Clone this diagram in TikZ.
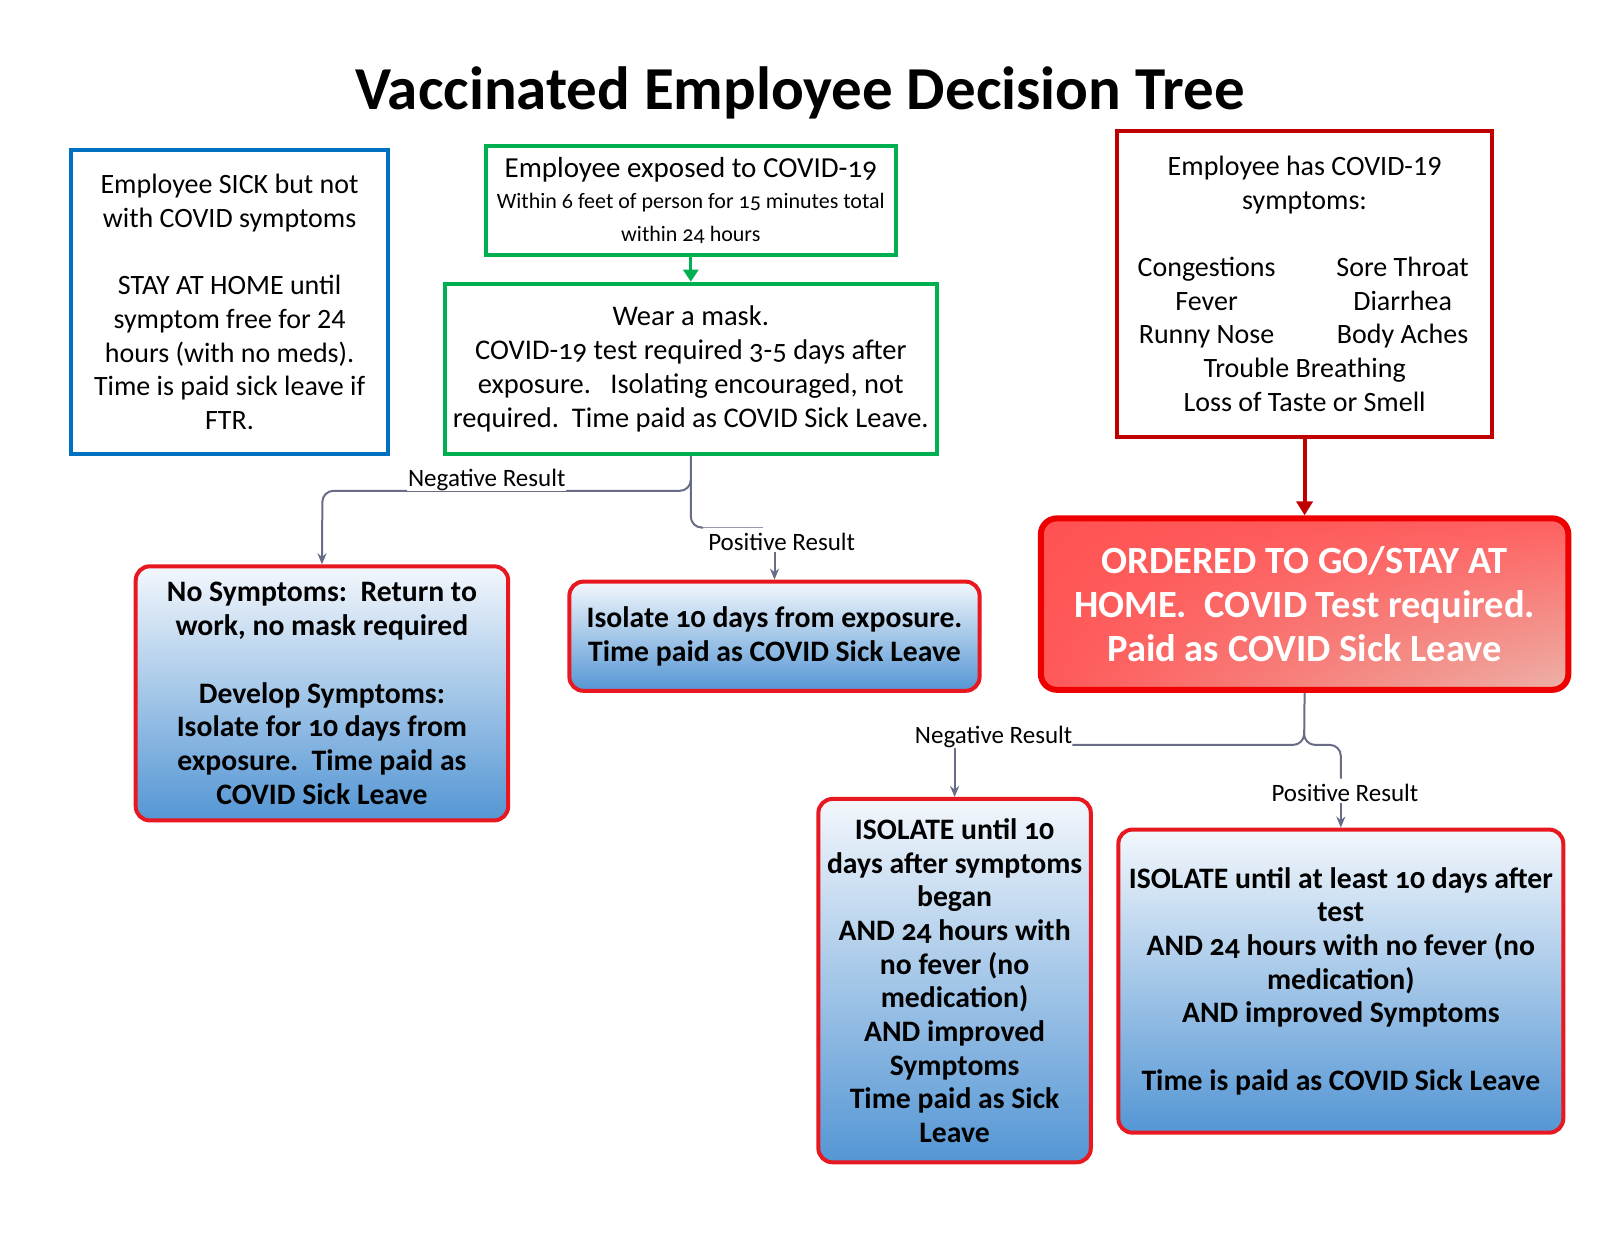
\documentclass[tikz,border=0pt]{standalone}
\usepackage{fontspec}
\setmainfont{Carlito}
\newfontfamily\cand[Numbers=OldStyle]{Carlito}
\usetikzlibrary{arrows.meta,shadings}
\definecolor{bbox}{RGB}{0,112,192}
\definecolor{gbox}{RGB}{0,176,80}
\definecolor{drbox}{RGB}{192,0,0}
\definecolor{rb}{RGB}{232,24,32}
\definecolor{ordb}{RGB}{238,0,0}
\definecolor{conn}{RGB}{104,108,134}
\definecolor{conlight}{RGB}{150,153,172}
\definecolor{gtop}{RGB}{243,247,252}
\definecolor{gbot}{RGB}{84,150,212}
\definecolor{oul}{RGB}{255,82,82}
\definecolor{our}{RGB}{255,96,96}
\definecolor{oll}{RGB}{255,88,88}
\definecolor{olr}{RGB}{236,178,168}
\begin{document}
\begin{tikzpicture}[x=1.0204pt,y=-1.0204pt,
 boxsize/.style args={#1/#2}{minimum width=#1*1.0204pt, minimum height=#2*1.0204pt},
 plainbox/.style={draw, line width=4pt, inner sep=0pt, align=center,
   font=\fontsize{28}{33.7}\selectfont},
 gradbox/.style={draw=rb, line width=4pt, rounded corners=14pt, top color=gtop,
   bottom color=gbot, inner sep=0pt, align=center,
   font=\fontsize{29.7}{33.7}\selectfont\cand\bfseries},
 link/.style={draw=conn, line width=2pt, rounded corners=11pt},
 tip/.style={-{Stealth[length=11pt,width=9pt]}},
 lab/.style={font=\fontsize{25}{28}\selectfont, inner sep=1pt}
]
\useasboundingbox (0,0) rectangle (1568,1211.3);

\node[font=\fontsize{61}{64}\selectfont\bfseries, anchor=base] (title) at (784,107)
  {Vaccinated Employee Decision Tree};

% top row boxes
\node[plainbox, draw=bbox, boxsize=310/298] (sick) at (225,296)
  {Employee SICK but not\\with COVID symptoms\\[33.7pt]STAY AT HOME until\\symptom free for 24\\hours (with no meds).\\Time is paid sick leave if\\FTR.};

\node[plainbox, draw=gbox, boxsize=402/107] (exposed) at (677,196.5)
  {{\fontsize{29}{30}\selectfont\cand Employee exposed to COVID-19}\\[-3pt]
   {\fontsize{22}{30}\selectfont\cand Within 6 feet of person for 15 minutes total}\\[0pt]
   {\fontsize{22}{30}\selectfont\cand within 24 hours}};

\node[plainbox, draw=gbox, boxsize=482/167, font=\fontsize{28.5}{33.7}\selectfont\cand] (mask) at (677,361.5)
  {Wear a mask.\\COVID-19 test required 3-5 days after\\exposure.\ \ \ Isolating encouraged, not\\required.\ \ Time paid as COVID Sick Leave.};

\node[plainbox, draw=drbox, boxsize=367/300] (symp) at (1278.5,278)
  {Employee has COVID-19\\symptoms:\\[33.7pt]
   \makebox[0pt]{\makebox[196pt]{Congestions}\makebox[196pt]{Sore Throat}}\\
   \makebox[0pt]{\makebox[196pt]{Fever}\makebox[196pt]{Diarrhea}}\\
   \makebox[0pt]{\makebox[196pt]{Runny Nose}\makebox[196pt]{Body Aches}}\\
   Trouble Breathing\\Loss of Taste or Smell};

\node[draw=ordb, line width=6pt, rounded corners=16pt, inner sep=0pt, align=center,
  upper left=oul, upper right=our, lower left=oll, lower right=olr,
  text=white, font=\fontsize{38.5}{44}\selectfont\cand\bfseries,
  boxsize=517/168] (ordered) at (1278.5,592)
  {ORDERED TO GO/STAY AT\\HOME.\ \ COVID Test required.\\Paid as COVID Sick Leave};

% result boxes
\node[gradbox, boxsize=365/249] (nosym) at (315.5,679.5)
  {No Symptoms:\ \ Return to\\work, no mask required\\[33.7pt]Develop Symptoms:\\Isolate for 10 days from\\exposure.\ \ Time paid as\\COVID Sick Leave};

\node[gradbox, boxsize=402/107] (iso) at (759,623.5)
  {Isolate 10 days from exposure.\\Time paid as COVID Sick Leave};

\node[gradbox, boxsize=267/356] (until) at (935.5,961)
  {ISOLATE until 10\\days after symptoms\\began\\AND 24 hours with\\no fever (no\\medication)\\AND improved\\Symptoms\\Time paid as Sick\\Leave};

\node[gradbox, boxsize=436/297] (least) at (1314,961.5)
  {ISOLATE until at least 10 days after\\test\\AND 24 hours with no fever (no\\medication)\\AND improved Symptoms\\[33.7pt]Time is paid as COVID Sick Leave};

% main arrows
\draw[gbox, line width=3pt, -{Triangle[length=12pt,width=15pt]}] (exposed.south) -- (mask.north);
\draw[drbox, line width=4pt, -{Triangle[length=14pt,width=16pt]}] (symp.south) -- (ordered.north);

% first decision
\coordinate (n1a) at (677,481);
\coordinate (n1b) at (316,481);
\coordinate (p1a) at (677,517);
\coordinate (p1b) at (748,517);
\draw[link, tip] (mask.south) -- (n1a) -- (n1b) -- (nosym.north);
\draw[link] (677,470) -- (p1a) -- ++(12,0);
\draw[draw=conlight, line width=1.2pt] (689,517) -- (p1b);
\node[lab, fill=white] (neg1) at (477,470) {Negative Result};
\node[lab] (pos1) at (766,531) {Positive Result};
\draw[link, tip] (iso.north |- pos1.south) -- (iso.north);

% second decision
\coordinate (n2a) at (1278,730);
\coordinate (n2b) at (1051,730);
\coordinate (p2a) at (1314,730);
\coordinate (p2b) at (1314,763);
\draw[link] (ordered.south) -- (n2a) -- (n2b);
\draw[link] (1278,716) -- (n2a) -- (p2a) -- (p2b);
\node[lab, anchor=south east, inner sep=0pt] (neg2) at (1051,733) {Negative Result};
\node[lab] (pos2) at (1318,777) {Positive Result};
\draw[link, tip] (until.north |- neg2.south) -- (until.north);
\draw[link, tip] (least.north |- pos2.south) -- (least.north);
\end{tikzpicture}
\end{document}
